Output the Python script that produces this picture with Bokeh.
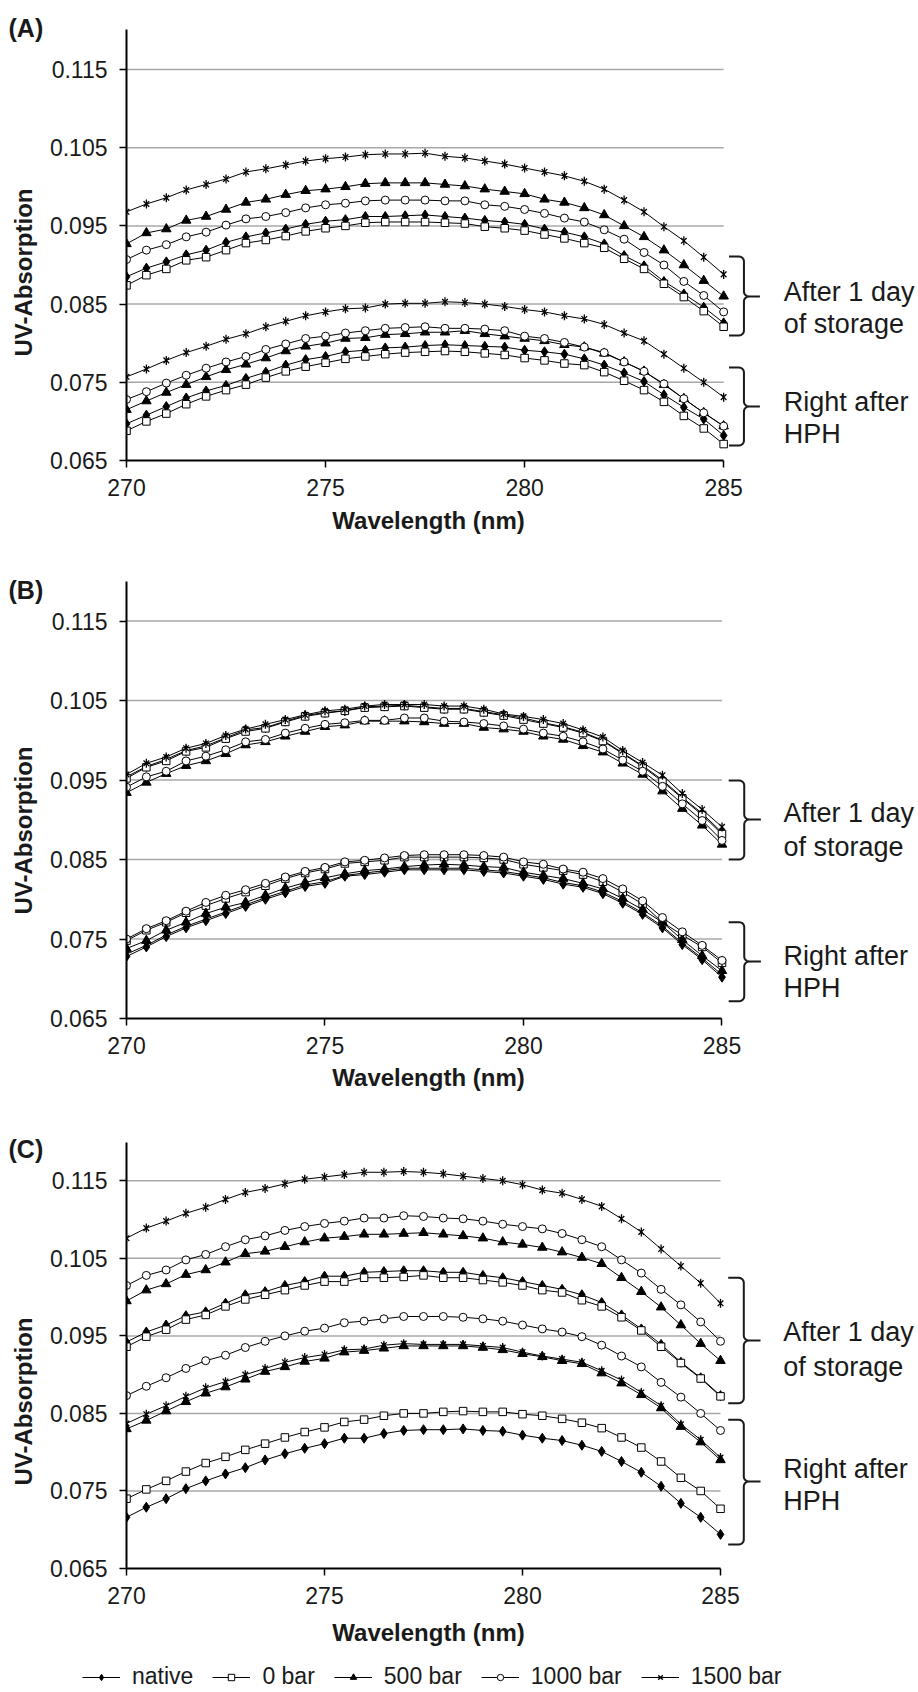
import math
from bokeh.plotting import figure
from bokeh.models import Range1d, FixedTicker, Legend, LegendItem, NumeralTickFormatter
from bokeh.core.properties import value
from bokeh.layouts import column, row
from bokeh.embed import file_html
from bokeh.resources import INLINE

FONT = "Liberation Sans"
TXT = "#1a1a1a"
NAN = float("nan")

# ---------------- data ----------------
wavelength = [270.0, 270.5, 271.0, 271.5, 272.0, 272.5, 273.0, 273.5, 274.0, 274.5,
              275.0, 275.5, 276.0, 276.5, 277.0, 277.5, 278.0, 278.5, 279.0, 279.5,
              280.0, 280.5, 281.0, 281.5, 282.0, 282.5, 283.0, 283.5, 284.0, 284.5, 285.0]

series_names = ["native", "0 bar", "500 bar", "1000 bar", "1500 bar"]
y_ticks = [0.065, 0.075, 0.085, 0.095, 0.105, 0.115]
x_ticks = [270, 275, 280, 285]

# Panel A - after 1 day of storage
A_day1_native = [0.0885, 0.0896, 0.0904, 0.0913, 0.0919, 0.0929, 0.0936, 0.0941, 0.0946, 0.0952, 0.0956, 0.0958, 0.0962, 0.0962, 0.0963, 0.0964, 0.0962, 0.0960, 0.0957, 0.0955, 0.0952, 0.0946, 0.0942, 0.0936, 0.0927, 0.0912, 0.0899, 0.0879, 0.0863, 0.0846, 0.0826]
A_day1_0bar = [0.0874, 0.0887, 0.0895, 0.0906, 0.0910, 0.0919, 0.0928, 0.0932, 0.0937, 0.0943, 0.0947, 0.0950, 0.0954, 0.0955, 0.0955, 0.0955, 0.0954, 0.0953, 0.0949, 0.0947, 0.0944, 0.0939, 0.0934, 0.0928, 0.0922, 0.0908, 0.0895, 0.0876, 0.0859, 0.0841, 0.0821]
A_day1_500 = [0.0927, 0.0941, 0.0946, 0.0957, 0.0962, 0.0971, 0.0980, 0.0984, 0.0990, 0.0995, 0.0997, 0.1000, 0.1004, 0.1005, 0.1005, 0.1005, 0.1003, 0.1001, 0.0997, 0.0994, 0.0991, 0.0984, 0.0980, 0.0973, 0.0964, 0.0950, 0.0936, 0.0919, 0.0900, 0.0880, 0.0860]
A_day1_1000 = [0.0907, 0.0919, 0.0926, 0.0936, 0.0942, 0.0951, 0.0959, 0.0962, 0.0967, 0.0973, 0.0977, 0.0979, 0.0982, 0.0983, 0.0983, 0.0983, 0.0982, 0.0982, 0.0977, 0.0975, 0.0971, 0.0966, 0.0960, 0.0955, 0.0945, 0.0933, 0.0916, 0.0900, 0.0879, 0.0861, 0.0840]
A_day1_1500 = [0.0968, 0.0978, 0.0986, 0.0996, 0.1003, 0.1010, 0.1019, 0.1023, 0.1028, 0.1033, 0.1036, 0.1038, 0.1041, 0.1042, 0.1042, 0.1043, 0.1039, 0.1037, 0.1033, 0.1029, 0.1024, 0.1019, 0.1014, 0.1007, 0.0997, 0.0983, 0.0968, 0.0949, 0.0931, 0.0910, 0.0888]
# Panel A - right after HPH
A_hph_native = [0.0697, 0.0708, 0.0719, 0.0730, 0.0739, 0.0746, 0.0755, 0.0763, 0.0772, 0.0779, 0.0783, 0.0789, 0.0791, 0.0794, 0.0795, 0.0797, 0.0798, 0.0797, 0.0796, 0.0795, 0.0791, 0.0789, 0.0786, 0.0780, 0.0772, 0.0762, 0.0751, 0.0734, 0.0718, 0.0703, 0.0682]
A_hph_0bar = [0.0688, 0.0700, 0.0710, 0.0722, 0.0732, 0.0740, 0.0747, 0.0756, 0.0764, 0.0770, 0.0775, 0.0780, 0.0783, 0.0786, 0.0788, 0.0789, 0.0790, 0.0789, 0.0787, 0.0785, 0.0781, 0.0778, 0.0774, 0.0772, 0.0763, 0.0752, 0.0740, 0.0725, 0.0707, 0.0691, 0.0671]
A_hph_500 = [0.0715, 0.0726, 0.0737, 0.0747, 0.0757, 0.0766, 0.0773, 0.0781, 0.0790, 0.0796, 0.0800, 0.0806, 0.0807, 0.0811, 0.0812, 0.0814, 0.0814, 0.0816, 0.0812, 0.0809, 0.0806, 0.0803, 0.0798, 0.0795, 0.0787, 0.0776, 0.0764, 0.0747, 0.0729, 0.0711, 0.0694]
A_hph_1000 = [0.0728, 0.0738, 0.0749, 0.0759, 0.0768, 0.0776, 0.0783, 0.0792, 0.0799, 0.0806, 0.0809, 0.0813, 0.0816, 0.0819, 0.0820, 0.0821, 0.0819, 0.0819, 0.0818, 0.0816, 0.0809, 0.0806, 0.0801, 0.0795, 0.0788, 0.0776, 0.0764, 0.0748, 0.0729, 0.0711, 0.0694]
A_hph_1500 = [0.0757, 0.0767, 0.0778, 0.0788, 0.0796, 0.0805, 0.0812, 0.0821, 0.0828, 0.0835, 0.0840, 0.0844, 0.0845, 0.0850, 0.0851, 0.0851, 0.0853, 0.0852, 0.0850, 0.0847, 0.0843, 0.0840, 0.0835, 0.0831, 0.0824, 0.0813, 0.0803, 0.0786, 0.0768, 0.0750, 0.0731]

# Panel B - after 1 day of storage
B_day1_native = [0.0954, 0.0967, 0.0976, 0.0987, 0.0993, 0.1003, 0.1013, 0.1016, 0.1024, 0.1031, 0.1035, 0.1037, 0.1042, 0.1043, 0.1044, 0.1042, 0.1040, 0.1040, 0.1036, 0.1032, 0.1028, 0.1022, 0.1017, 0.1010, 0.1000, 0.0984, 0.0968, 0.0950, 0.0928, 0.0908, 0.0884]
B_day1_0bar = [0.0952, 0.0966, 0.0974, 0.0986, 0.0991, 0.1002, 0.1011, 0.1015, 0.1023, 0.1030, 0.1034, 0.1037, 0.1041, 0.1042, 0.1043, 0.1041, 0.1039, 0.1039, 0.1035, 0.1031, 0.1026, 0.1021, 0.1016, 0.1009, 0.0999, 0.0983, 0.0967, 0.0948, 0.0927, 0.0906, 0.0882]
B_day1_500 = [0.0934, 0.0947, 0.0958, 0.0968, 0.0974, 0.0983, 0.0994, 0.0998, 0.1005, 0.1011, 0.1017, 0.1019, 0.1024, 0.1024, 0.1024, 0.1023, 0.1021, 0.1021, 0.1016, 0.1014, 0.1011, 0.1005, 0.1001, 0.0993, 0.0985, 0.0971, 0.0957, 0.0936, 0.0914, 0.0893, 0.0869]
B_day1_1000 = [0.0941, 0.0954, 0.0961, 0.0974, 0.0980, 0.0988, 0.0998, 0.1001, 0.1009, 0.1015, 0.1020, 0.1022, 0.1025, 0.1025, 0.1028, 0.1028, 0.1024, 0.1023, 0.1021, 0.1018, 0.1014, 0.1009, 0.1005, 0.0998, 0.0989, 0.0975, 0.0961, 0.0942, 0.0920, 0.0899, 0.0874]
B_day1_1500 = [0.0957, 0.0971, 0.0979, 0.0990, 0.0996, 0.1006, 0.1014, 0.1020, 0.1026, 0.1032, 0.1037, 0.1039, 0.1043, 0.1045, 0.1045, 0.1045, 0.1043, 0.1043, 0.1039, 0.1033, 0.1030, 0.1026, 0.1021, 0.1013, 0.1004, 0.0987, 0.0972, 0.0956, 0.0933, 0.0913, 0.0891]
# Panel B - right after HPH
B_hph_native = [0.0728, 0.0740, 0.0753, 0.0764, 0.0773, 0.0782, 0.0791, 0.0800, 0.0808, 0.0816, 0.0820, 0.0829, 0.0831, 0.0834, 0.0837, 0.0837, 0.0837, 0.0837, 0.0835, 0.0833, 0.0829, 0.0825, 0.0819, 0.0815, 0.0807, 0.0795, 0.0781, 0.0764, 0.0743, 0.0724, 0.0702]
B_hph_0bar = [0.0748, 0.0761, 0.0771, 0.0783, 0.0792, 0.0801, 0.0809, 0.0817, 0.0826, 0.0833, 0.0838, 0.0845, 0.0847, 0.0849, 0.0853, 0.0853, 0.0853, 0.0853, 0.0852, 0.0850, 0.0844, 0.0840, 0.0836, 0.0831, 0.0822, 0.0809, 0.0794, 0.0771, 0.0755, 0.0740, 0.0720]
B_hph_500 = [0.0738, 0.0748, 0.0761, 0.0771, 0.0782, 0.0790, 0.0796, 0.0805, 0.0814, 0.0821, 0.0827, 0.0832, 0.0836, 0.0838, 0.0841, 0.0843, 0.0844, 0.0843, 0.0841, 0.0840, 0.0834, 0.0830, 0.0826, 0.0820, 0.0813, 0.0801, 0.0787, 0.0771, 0.0749, 0.0729, 0.0710]
B_hph_1000 = [0.0750, 0.0763, 0.0773, 0.0785, 0.0796, 0.0805, 0.0812, 0.0820, 0.0828, 0.0835, 0.0840, 0.0847, 0.0849, 0.0852, 0.0855, 0.0856, 0.0856, 0.0856, 0.0855, 0.0853, 0.0847, 0.0844, 0.0838, 0.0834, 0.0826, 0.0813, 0.0798, 0.0777, 0.0759, 0.0742, 0.0723]
B_hph_1500 = [0.0731, 0.0742, 0.0755, 0.0766, 0.0775, 0.0784, 0.0793, 0.0802, 0.0810, 0.0818, 0.0822, 0.0830, 0.0833, 0.0836, 0.0839, 0.0839, 0.0839, 0.0839, 0.0837, 0.0835, 0.0831, 0.0827, 0.0821, 0.0817, 0.0809, 0.0797, 0.0783, 0.0766, 0.0745, 0.0726, 0.0705]

# Panel C - after 1 day of storage
C_day1_native = [0.0942, 0.0955, 0.0964, 0.0976, 0.0981, 0.0992, 0.1003, 0.1007, 0.1015, 0.1020, 0.1027, 0.1027, 0.1032, 0.1033, 0.1034, 0.1034, 0.1032, 0.1032, 0.1028, 0.1025, 0.1020, 0.1015, 0.1010, 0.1003, 0.0993, 0.0977, 0.0959, 0.0939, 0.0916, 0.0896, 0.0873]
C_day1_0bar = [0.0936, 0.0949, 0.0958, 0.0971, 0.0977, 0.0988, 0.0997, 0.1003, 0.1009, 0.1015, 0.1020, 0.1020, 0.1025, 0.1025, 0.1026, 0.1028, 0.1025, 0.1025, 0.1022, 0.1019, 0.1015, 0.1009, 0.1006, 0.0996, 0.0988, 0.0974, 0.0957, 0.0936, 0.0915, 0.0895, 0.0872]
C_day1_500 = [0.0995, 0.1009, 0.1017, 0.1029, 0.1035, 0.1045, 0.1056, 0.1059, 0.1065, 0.1071, 0.1076, 0.1078, 0.1081, 0.1081, 0.1082, 0.1083, 0.1081, 0.1079, 0.1076, 0.1071, 0.1068, 0.1064, 0.1058, 0.1051, 0.1043, 0.1025, 0.1007, 0.0987, 0.0964, 0.0940, 0.0918]
C_day1_1000 = [0.1015, 0.1028, 0.1035, 0.1048, 0.1055, 0.1065, 0.1074, 0.1079, 0.1086, 0.1091, 0.1095, 0.1098, 0.1102, 0.1102, 0.1105, 0.1104, 0.1102, 0.1101, 0.1098, 0.1094, 0.1091, 0.1088, 0.1082, 0.1074, 0.1065, 0.1048, 0.1031, 0.1010, 0.0990, 0.0968, 0.0943]
C_day1_1500 = [0.1076, 0.1089, 0.1098, 0.1108, 0.1116, 0.1126, 0.1135, 0.1140, 0.1146, 0.1152, 0.1155, 0.1158, 0.1161, 0.1161, 0.1162, 0.1161, 0.1159, 0.1156, 0.1153, 0.1150, 0.1145, 0.1138, 0.1134, 0.1126, 0.1117, 0.1101, 0.1084, 0.1062, 0.1040, 0.1018, 0.0992]
# Panel C - right after HPH
C_hph_native = [0.0716, 0.0729, 0.0740, 0.0753, 0.0763, 0.0772, 0.0780, 0.0790, 0.0798, 0.0805, 0.0811, 0.0818, 0.0818, 0.0824, 0.0828, 0.0829, 0.0829, 0.0830, 0.0828, 0.0827, 0.0822, 0.0818, 0.0815, 0.0809, 0.0801, 0.0788, 0.0774, 0.0756, 0.0734, 0.0716, 0.0694]
C_hph_0bar = [0.0740, 0.0752, 0.0763, 0.0775, 0.0786, 0.0794, 0.0803, 0.0811, 0.0819, 0.0826, 0.0832, 0.0839, 0.0842, 0.0847, 0.0850, 0.0850, 0.0852, 0.0853, 0.0852, 0.0852, 0.0849, 0.0847, 0.0843, 0.0838, 0.0831, 0.0819, 0.0806, 0.0788, 0.0767, 0.0750, 0.0727]
C_hph_500 = [0.0830, 0.0841, 0.0853, 0.0865, 0.0876, 0.0884, 0.0894, 0.0904, 0.0910, 0.0917, 0.0921, 0.0929, 0.0931, 0.0934, 0.0937, 0.0937, 0.0937, 0.0937, 0.0935, 0.0932, 0.0927, 0.0923, 0.0918, 0.0914, 0.0902, 0.0889, 0.0874, 0.0857, 0.0833, 0.0813, 0.0790]
C_hph_1000 = [0.0873, 0.0885, 0.0896, 0.0908, 0.0918, 0.0925, 0.0935, 0.0943, 0.0950, 0.0956, 0.0960, 0.0967, 0.0969, 0.0972, 0.0975, 0.0975, 0.0975, 0.0974, 0.0972, 0.0969, 0.0964, 0.0959, 0.0955, 0.0949, 0.0938, 0.0924, 0.0910, 0.0890, 0.0871, 0.0850, 0.0828]
C_hph_1500 = [0.0837, 0.0849, 0.0860, 0.0872, 0.0883, 0.0891, 0.0900, 0.0908, 0.0916, 0.0922, 0.0926, 0.0932, 0.0933, 0.0938, 0.0940, 0.0939, 0.0939, 0.0939, 0.0937, 0.0935, 0.0929, 0.0924, 0.0920, 0.0916, 0.0905, 0.0893, 0.0877, 0.0860, 0.0836, 0.0816, 0.0793]

# ---------------- layout (page pixels, origin at top-left of the page) ----------------
LEFT_W = 46      # width of the strip holding the panel tag and the y title
PAGE_W = 918

panels = [
    dict(tag="(A)",
         day1=[A_day1_native, A_day1_0bar, A_day1_500, A_day1_1000, A_day1_1500],
         hph=[A_hph_native, A_hph_0bar, A_hph_500, A_hph_1000, A_hph_1500],
         left=124, ppn=39.91, top=29, bottom=460, ppu=7820,
         row_top=0, row_bot=505, sec_bot=560,
         tag_cy=27, ytitle_cy=272, xtitle_cy=520,
         brackets=[(256, 296, 335), (367, 406, 445)], bx=(728, 743, 759), text_x=783,
         texts=[("After 1 day", 291.7), ("of storage", 323.3), ("Right after", 401.7), ("HPH", 433.3)]),
    dict(tag="(B)",
         day1=[B_day1_native, B_day1_0bar, B_day1_500, B_day1_1000, B_day1_1500],
         hph=[B_hph_native, B_hph_0bar, B_hph_500, B_hph_1000, B_hph_1500],
         left=124, ppn=39.8, top=581, bottom=1018, ppu=7950,
         row_top=560, row_bot=1063, sec_bot=1120,
         tag_cy=589, ytitle_cy=830, xtitle_cy=1077,
         brackets=[(780, 819, 859), (921.7, 961, 1000.7)], bx=(727.7, 743.3, 760), text_x=782.7,
         texts=[("After 1 day", 812.7), ("of storage", 846.7), ("Right after", 955.7), ("HPH", 987.7)]),
    dict(tag="(C)",
         day1=[C_day1_native, C_day1_0bar, C_day1_500, C_day1_1000, C_day1_1500],
         hph=[C_hph_native, C_hph_0bar, C_hph_500, C_hph_1000, C_hph_1500],
         left=126, ppn=39.6, top=1142, bottom=1568, ppu=7754,
         row_top=1120, row_bot=1613, sec_bot=1692,
         tag_cy=1148, ytitle_cy=1401, xtitle_cy=1632,
         brackets=[(1277.3, 1340, 1402.7), (1419.3, 1481, 1544)], bx=(727.7, 743.3, 760), text_x=782.7,
         texts=[("After 1 day", 1331.7), ("of storage", 1366.7), ("Right after", 1468.3), ("HPH", 1500)]),
]
LEGEND_LEFT = 82
LEGEND_CY = 1679


def aux_figure(w, h, x_range, y_range, top=0, bottom=0):
    f = figure(width=w, height=h, x_range=x_range, y_range=y_range,
               x_axis_type=None, y_axis_type=None, output_backend="svg",
               toolbar_location=None, min_border_left=0, min_border_right=0,
               min_border_top=top, min_border_bottom=bottom, title=None)
    f.outline_line_color = None
    f.xgrid.visible = False
    f.ygrid.visible = False
    f.background_fill_color = "white"
    f.border_fill_color = "white"
    return f


def draw_series(p, xs, ys, name):
    rs = [p.line(xs, ys, line_color="black", line_width=1)]
    if name == "native":
        rs.append(p.scatter(xs, ys, marker="diamond", size=10,
                            fill_color="black", line_color="black"))
    elif name == "0 bar":
        rs.append(p.scatter(xs, ys, marker="square", size=7.5,
                            fill_color="white", line_color="black", line_width=1))
    elif name == "500 bar":
        rs.append(p.scatter(xs, ys, marker="triangle", size=9.5,
                            fill_color="black", line_color="black"))
    elif name == "1000 bar":
        rs.append(p.scatter(xs, ys, marker="circle", size=8,
                            fill_color="white", line_color="black", line_width=1))
    else:
        rs.append(p.scatter(xs, ys, marker="x", size=8,
                            line_color="black", line_width=1.3))
        rs.append(p.scatter(xs, ys, marker="dash", size=9, angle=math.pi / 2,
                            line_color="black", line_width=1.3))
    return rs


def make_section(cfg, with_legend=False):
    left, ppn, top, bottom, ppu = cfg["left"], cfg["ppn"], cfg["top"], cfg["bottom"], cfg["ppu"]
    row_top, row_bot, sec_bot = cfg["row_top"], cfg["row_bot"], cfg["sec_bot"]
    row_h = row_bot - row_top
    ftop = row_top + 2          # frame top (a bit above the axis end)

    def X(px):
        return 270 + (px - left) / ppn

    def Y(py):
        return 0.065 + (bottom - py) / ppu

    p = figure(width=PAGE_W - LEFT_W, height=row_h, title=None,
               x_range=Range1d(270, X(PAGE_W)), y_range=Range1d(0.065, Y(ftop)),
               output_backend="svg", toolbar_location=None,
               min_border_left=left - LEFT_W, min_border_right=0,
               min_border_top=ftop - row_top, min_border_bottom=row_bot - bottom)
    p.outline_line_color = None
    p.background_fill_color = "white"
    p.border_fill_color = "white"
    p.xgrid.visible = False
    p.ygrid.visible = False

    gl = y_ticks[1:]
    p.segment(x0=[270] * len(gl), x1=[285] * len(gl), y0=gl, y1=gl,
              line_color="#a8a8a8", line_width=1.5, level="underlay")

    for ax in (p.xaxis, p.yaxis):
        ax.axis_line_color = "black"
        ax.axis_line_width = 2
        ax.major_tick_line_color = "black"
        ax.major_tick_line_width = 1.5
        ax.major_tick_out = 7
        ax.major_tick_in = 0
        ax.minor_tick_line_color = None
        ax.major_label_text_font = FONT
        ax.major_label_text_font_size = "23px"
        ax.major_label_text_color = TXT
    p.xaxis.ticker = FixedTicker(ticks=x_ticks)
    p.xaxis.bounds = (270, 285)
    p.xaxis.major_label_standoff = 11
    p.yaxis.ticker = FixedTicker(ticks=y_ticks)
    p.yaxis.bounds = (0.065, Y(top))
    p.yaxis.formatter = NumeralTickFormatter(format="0.000")
    p.yaxis.major_label_standoff = 12

    for name, ys in zip(series_names, cfg["hph"]):
        draw_series(p, wavelength, ys, name)
    for name, ys in zip(series_names, cfg["day1"]):
        draw_series(p, wavelength, ys, name)

    # curly brackets on the right
    r = 5.0
    xl, xv, xt = cfg["bx"]
    for (yt, ym, yb) in cfg["brackets"]:
        pts = [(xl, yt)]
        for k in range(7):
            a = -math.pi / 2 + k * (math.pi / 2) / 6
            pts.append((xv - r + r * math.cos(a), yt + r + r * math.sin(a)))
        for k in range(7):
            a = math.pi - k * (math.pi / 2) / 6
            pts.append((xv + r + r * math.cos(a), ym - r + r * math.sin(a)))
        pts.append((xt, ym))
        for k in range(7):
            a = -math.pi / 2 - k * (math.pi / 2) / 6
            pts.append((xv + r + r * math.cos(a), ym + r + r * math.sin(a)))
        for k in range(7):
            a = k * (math.pi / 2) / 6
            pts.append((xv - r + r * math.cos(a), yb - r + r * math.sin(a)))
        pts.append((xl, yb))
        p.line([X(a) for a, b in pts], [Y(b) for a, b in pts], line_color=TXT, line_width=2)

    p.text(x=[X(cfg["text_x"])] * len(cfg["texts"]), y=[Y(b) for _, b in cfg["texts"]],
           text=[t for t, _ in cfg["texts"]], text_font=value(FONT), text_font_size="27px",
           text_color=TXT, text_align="left", text_baseline="alphabetic")

    # left strip (same vertical frame as the panel): tag and y-axis title; y = -page_y
    lf = aux_figure(LEFT_W, row_h, Range1d(0, LEFT_W), Range1d(-bottom, -ftop),
                    top=ftop - row_top, bottom=row_bot - bottom)
    lf.text(x=[8], y=[-cfg["tag_cy"]], text=[cfg["tag"]], text_font=value(FONT),
            text_font_style="bold", text_font_size="25px", text_color=TXT,
            text_align="left", text_baseline="middle")
    lf.text(x=[23], y=[-cfg["ytitle_cy"]], text=["UV-Absorption"], angle=math.pi / 2,
            text_font=value(FONT), text_font_style="bold", text_font_size="24px",
            text_color=TXT, text_align="center", text_baseline="middle")

    # bottom strip: x-axis title (and legend for the last panel); y = -page_y
    bh = sec_bot - row_bot
    bf = aux_figure(PAGE_W, bh, Range1d(0, PAGE_W), Range1d(-sec_bot, -row_bot))
    bf.text(x=[428], y=[-cfg["xtitle_cy"]], text=["Wavelength (nm)"],
            text_font=value(FONT), text_font_style="bold", text_font_size="24px",
            text_color=TXT, text_align="center", text_baseline="middle")
    if with_legend:
        items = []
        for name in series_names:
            rs = draw_series(bf, [NAN], [NAN], name)   # legend-only renderers
            items.append(LegendItem(label=name, renderers=rs))
        legend = Legend(items=items, location=(LEGEND_LEFT, sec_bot - LEGEND_CY - 11),
                        orientation="horizontal", glyph_width=38, glyph_height=16,
                        label_height=22, label_standoff=12, spacing=19,
                        padding=0, margin=0, border_line_color=None,
                        background_fill_alpha=0, label_text_font=FONT,
                        label_text_font_size="23px", label_text_color=TXT)
        bf.add_layout(legend)

    return column(row(lf, p, spacing=0), bf, spacing=0)


layout = column(make_section(panels[0]), make_section(panels[1]),
                make_section(panels[2], with_legend=True), spacing=0)

open("out.html", "w").write(file_html(layout, INLINE))
